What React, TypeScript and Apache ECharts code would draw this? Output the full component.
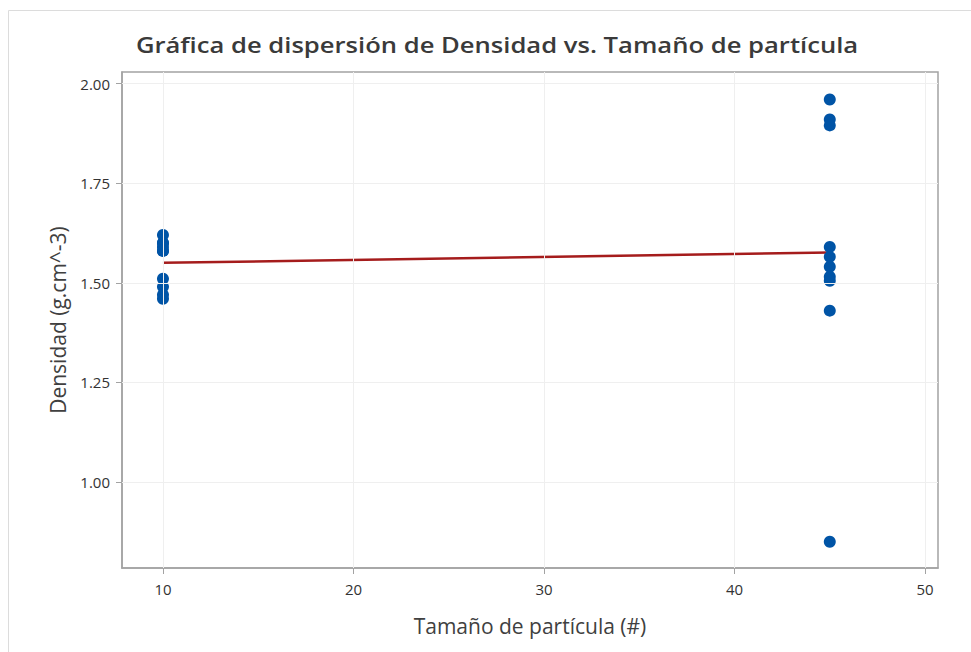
import React, { useEffect, useRef } from "react";
import * as echarts from "echarts";

const titleText = "Gráfica de dispersión de Densidad vs. Tamaño de partícula";
const xName = "Tamaño de partícula (#)";
const yName = "Densidad (g.cm^-3)";
const xTicks = [10, 20, 30, 40, 50];
const yTicks = [1.0, 1.25, 1.5, 1.75, 2.0];

const sizeA = 10;
const densA = [1.62, 1.6, 1.6, 1.59, 1.58, 1.58, 1.51, 1.49, 1.47, 1.46];
const sizeB = 45;
const densB = [1.96, 1.91, 1.895, 1.59, 1.565, 1.54, 1.515, 1.505, 1.43, 0.85];

const FONT = "'Open Sans', 'Noto Sans', sans-serif";

function fitLine(xs: number[], ys: number[]) {
  const n = xs.length;
  const mx = xs.reduce((a, b) => a + b, 0) / n;
  const my = ys.reduce((a, b) => a + b, 0) / n;
  let sxy = 0, sxx = 0;
  for (let i = 0; i < n; i++) {
    sxy += (xs[i] - mx) * (ys[i] - my);
    sxx += (xs[i] - mx) * (xs[i] - mx);
  }
  const b = sxy / sxx;
  const a = my - b * mx;
  return (x: number) => a + b * x;
}

export default function App() {
  const ref = useRef<HTMLDivElement>(null);
  useEffect(() => {
    if (!ref.current) return;
    const chart = echarts.init(ref.current, null, { renderer: "svg" });
    const pts = [
      ...densA.map((d) => [sizeA, d]),
      ...densB.map((d) => [sizeB, d]),
    ];
    const f = fitLine(pts.map((p) => p[0]), pts.map((p) => p[1]));
    const xMin = Math.min(sizeA, sizeB);
    const xMax = Math.max(sizeA, sizeB);
    const gridColor = "#efefef";
    const frame = "#a3a3a3";
    chart.setOption({
      animation: false,
      backgroundColor: "#fff",
      graphic: [
        {
          type: "rect",
          shape: { x: 8.5, y: 10.5, width: 1000, height: 700 },
          style: { fill: "none", stroke: "#dcdcdc", lineWidth: 1 },
          silent: true,
          z: -10,
        },
        {
          type: "text",
          x: 497,
          y: 45,
          scaleX: 1.22,
          style: {
            text: titleText,
            fontFamily: FONT,
            fontSize: 21,
            fontWeight: 600,
            fill: "#3a3a3a",
            align: "center",
            verticalAlign: "middle",
          },
          silent: true,
        },
      ],
      grid: {
        left: 122,
        top: 72,
        right: 33,
        bottom: 84,
        show: true,
        borderColor: frame,
        borderWidth: 1.5,
        backgroundColor: "#fff",
      },
      xAxis: {
        type: "value",
        min: 7.85,
        max: 50.68,
        name: xName,
        nameLocation: "middle",
        nameGap: 47,
        nameTextStyle: { fontFamily: FONT, fontSize: 21, color: "#404040" },
        axisLine: { show: true, lineStyle: { color: frame, width: 1.5 } },
        axisTick: { show: true, length: 6, lineStyle: { color: frame }, customValues: xTicks },
        axisLabel: {
          customValues: xTicks,
          fontFamily: FONT,
          fontSize: 15,
          color: "#333",
          margin: 13,
          formatter: (v: number) => String(v),
        },
        splitLine: { show: false },
      },
      yAxis: {
        type: "value",
        min: 0.784,
        max: 2.029,
        name: yName,
        nameLocation: "middle",
        nameGap: 54,
        nameRotate: 90,
        nameTextStyle: { fontFamily: FONT, fontSize: 21, color: "#404040" },
        axisLine: { show: true, lineStyle: { color: frame, width: 1.5 } },
        axisTick: { show: true, length: 6, lineStyle: { color: frame }, customValues: yTicks },
        axisLabel: {
          customValues: yTicks,
          fontFamily: FONT,
          fontSize: 15,
          color: "#333",
          margin: 12,
          formatter: (v: number) => v.toFixed(2),
        },
        splitLine: { show: false },
      },
      series: [
        {
          type: "line",
          data: [],
          silent: true,
          markLine: {
            silent: true,
            symbol: "none",
            label: { show: false },
            lineStyle: { color: gridColor, type: "solid", width: 1 },
            data: [
              ...xTicks.map((v) => ({ xAxis: v })),
              ...yTicks.map((v) => ({ yAxis: v })),
            ],
          },
          z: 1,
        },
        {
          type: "line",
          data: [
            [xMin, f(xMin)],
            [xMax, f(xMax)],
          ],
          symbol: "none",
          lineStyle: { color: "#a51c1c", width: 2.5 },
          z: 2,
        },
        {
          type: "scatter",
          data: pts,
          symbol: "circle",
          symbolSize: 12,
          itemStyle: { color: "#0054a6", opacity: 1 },
          z: 3,
        },
      ],
    });
    return () => chart.dispose();
  }, []);
  return (
    <div
      ref={ref}
      style={{ position: "absolute", left: 0, top: 0, width: 971, height: 652 }}
    />
  );
}
